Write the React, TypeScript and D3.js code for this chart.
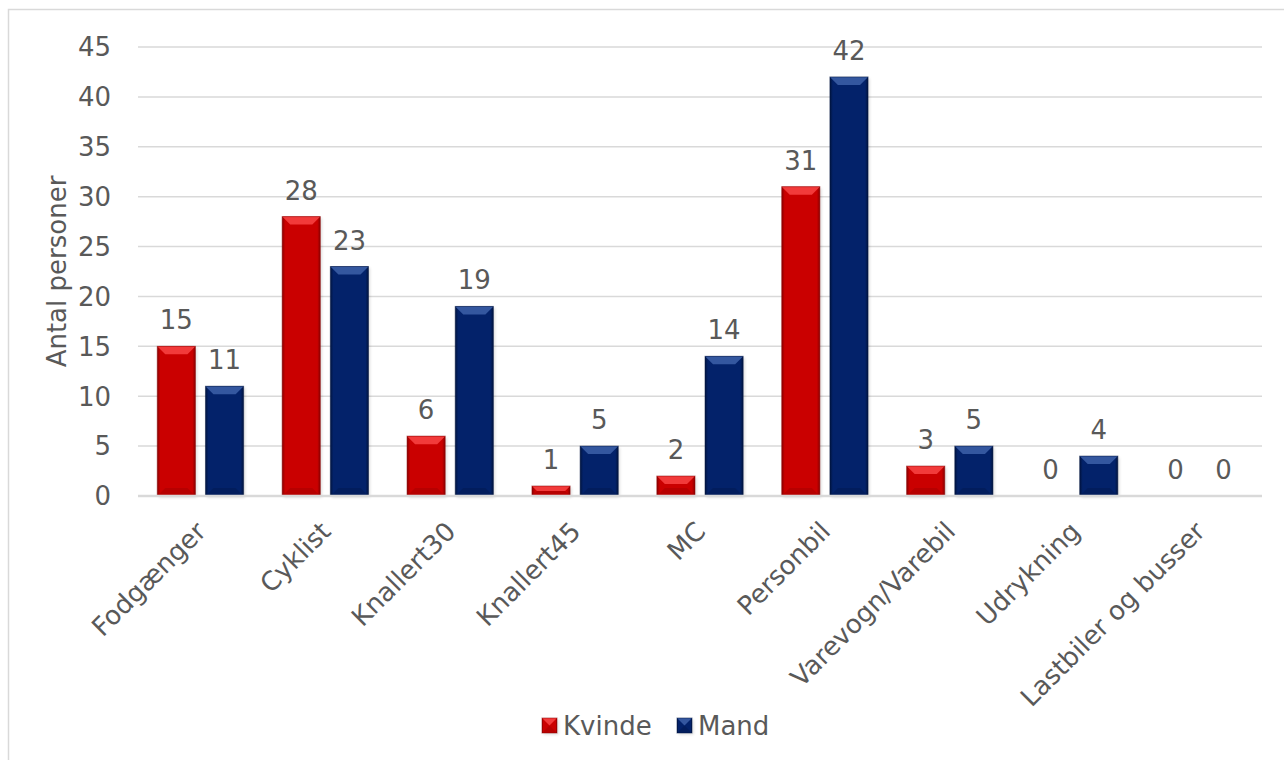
import React from "react";
import * as d3 from "d3";

const categories = [
  "Fodgænger",
  "Cyklist",
  "Knallert30",
  "Knallert45",
  "MC",
  "Personbil",
  "Varevogn/Varebil",
  "Udrykning",
  "Lastbiler og busser",
];
const kvinde = [15, 28, 6, 1, 2, 31, 3, 0, 0];
const mand = [11, 23, 19, 5, 14, 42, 5, 4, 0];
const yTicks = [0, 5, 10, 15, 20, 25, 30, 35, 40, 45];
const seriesNames = ["Kvinde", "Mand"];

const W = 1284;
const H = 760;
const plot = { left: 138, right: 1262, top: 47, bottom: 496 };
const FONT = "Verdana, 'DejaVu Sans', sans-serif";
const TEXT = "#595959";
const FS = 26;

const colors = {
  Kvinde: { main: "#CA0000", light: "#F23A3A", dark: "#8A0000" },
  Mand: { main: "#03226A", light: "#34579F", dark: "#01143F" },
};

function Bar({ x, y, w, h, c, id }: { x: number; y: number; w: number; h: number; c: typeof colors.Kvinde; id: string }) {
  if (h <= 0) return null;
  const b = Math.min(8, h / 2);
  return (
    <g>
      <rect x={x + 1.5} y={y + 1.5} width={w} height={h} fill="#000" opacity={0.14} filter="url(#shadow)" />
      <rect x={x} y={y} width={w} height={h} fill={`url(#${id})`} />
      {/* top bevel */}
      <polygon points={`${x},${y} ${x + w},${y} ${x + w - b},${y + b} ${x + b},${y + b}`} fill={c.light} />
      {/* bottom bevel */}
      <polygon points={`${x},${y + h} ${x + w},${y + h} ${x + w - b},${y + h - b} ${x + b},${y + h - b}`} fill={c.dark} opacity={0.3} />
      <rect x={x} y={y} width={w} height={h} fill="none" stroke={c.dark} strokeOpacity={0.5} strokeWidth={1} />
    </g>
  );
}

export default function App() {
  const x0 = d3.scaleBand<string>().domain(categories).range([plot.left, plot.right]);
  const x1 = d3.scaleBand<string>().domain(seriesNames).range([0, x0.bandwidth()]).paddingInner(0.208).paddingOuter(0.4);
  const y = d3.scaleLinear().domain([0, 45]).range([plot.bottom, plot.top]);
  const data = [kvinde, mand];

  return (
    <svg width={W} height={H} style={{ position: "absolute", left: 0, top: 0, background: "#fff" }} fontFamily={FONT}>
      <defs>
        <filter id="shadow" x="-20%" y="-20%" width="140%" height="140%">
          <feGaussianBlur stdDeviation="1.5" />
        </filter>
        {seriesNames.map((s) => {
          const c = colors[s as keyof typeof colors];
          return (
            <linearGradient key={s} id={`g-${s}`} x1="0" x2="1" y1="0" y2="0">
              <stop offset="0" stopColor={c.dark} />
              <stop offset="0.08" stopColor={c.main} />
              <stop offset="0.92" stopColor={c.main} />
              <stop offset="1" stopColor={c.dark} />
            </linearGradient>
          );
        })}
      </defs>
      <rect x={8.5} y={9.5} width={1290} height={770} fill="#fff" stroke="#d9d9d9" strokeWidth={1.5} />

      {yTicks.map((t) => (
        <g key={t}>
          {t > 0 && <line x1={plot.left} x2={plot.right} y1={y(t)} y2={y(t)} stroke="#d9d9d9" strokeWidth={1.5} />}
          <text x={111} y={y(t)} dy="0.36em" textAnchor="end" fontSize={FS} fill={TEXT}>
            {t}
          </text>
        </g>
      ))}

      <text
        transform={`translate(66,${(plot.top + plot.bottom) / 2}) rotate(-90)`}
        textAnchor="middle"
        fontSize={FS}
        fill={TEXT}
      >
        Antal personer
      </text>

      {categories.map((cat, i) => (
        <g key={cat}>
          {seriesNames.map((s, j) => {
            const v = data[j][i];
            const bx = (x0(cat) ?? 0) + (x1(s) ?? 0);
            const bw = x1.bandwidth();
            return (
              <g key={s}>
                <Bar x={bx} y={y(v)} w={bw} h={y(0) - y(v)} c={colors[s as keyof typeof colors]} id={`g-${s}`} />
                <text x={bx + bw / 2} y={y(v) - 17} textAnchor="middle" fontSize={FS} fill={TEXT}>
                  {v}
                </text>
              </g>
            );
          })}
        </g>
      ))}

      <line x1={plot.left} x2={plot.right} y1={y(0)} y2={y(0)} stroke="#d9d9d9" strokeWidth={2.5} />

      {categories.map((cat) => {
        const cx = (x0(cat) ?? 0) + x0.bandwidth() / 2;
        return (
          <text
            key={cat}
            transform={`translate(${cx + 7},${plot.bottom + 37}) rotate(-45)`}
            textAnchor="end"
            fontSize={FS}
            fill={TEXT}
          >
            {cat}
          </text>
        );
      })}

      {seriesNames.map((s, j) => {
        const lx = j === 0 ? 542 : 677;
        const c = colors[s as keyof typeof colors];
        return (
          <g key={s}>
            <Bar x={lx} y={718} w={15} h={15} c={c} id={`g-${s}`} />
            <text x={lx + 21} y={726} dy="0.36em" fontSize={FS} fill={TEXT}>
              {s}
            </text>
          </g>
        );
      })}
    </svg>
  );
}
